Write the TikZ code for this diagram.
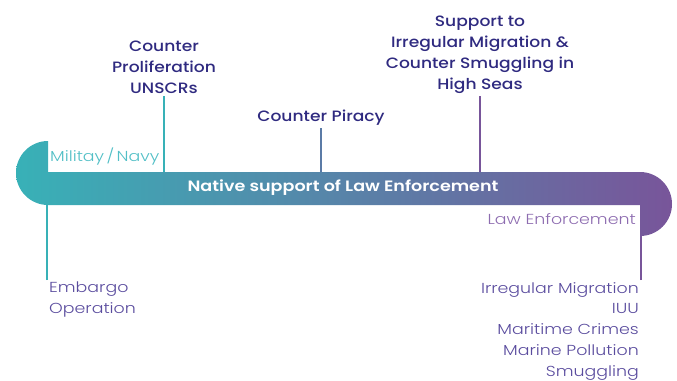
\documentclass[tikz,border=0pt]{standalone}
\usepackage{fontspec}
\setmainfont{Poppins}
\newfontfamily\lightfont{Poppins Light}[FakeStretch=1.2]
\newfontfamily\mediumfont{Poppins Medium}[FakeStretch=1.14]
\newfontfamily\semibfont{Poppins SemiBold}[FakeStretch=1.17]
\usetikzlibrary{positioning}
\definecolor{navyteal}{HTML}{38B1B7}
\definecolor{lawpurple}{HTML}{78559A}
\definecolor{navytext}{HTML}{2F2A80}
\definecolor{midblue}{HTML}{5B7BA6}
\definecolor{listtext}{HTML}{5A4C9E}
\definecolor{navylabel}{HTML}{52BFC6}
\definecolor{lawlabel}{HTML}{8D6CB0}

\begin{document}
\begin{tikzpicture}[x=1pt, y=1pt]
  \tikzstyle{topic} = [align=center, anchor=south, inner sep=2.5pt, text=navytext, font=\mediumfont\fontsize{15}{20.75}\selectfont]
  \tikzstyle{field} = [inner sep=0pt, font=\lightfont\fontsize{14.5}{20.75}\selectfont]
  \tikzstyle{task} = [field, text=listtext, inner sep=2pt]
  \tikzstyle{tick} = [line width=1.6pt]
  \useasboundingbox (0,0) rectangle (677,-380);

  \shade[left color=navyteal, right color=lawpurple]
    (48,-141) arc[start angle=90, end angle=270, radius=32] -- (640,-205) -- (640,-236)
    arc[start angle=-90, end angle=90, radius=32] -- (48,-172) -- cycle;
  \coordinate (bandtop) at (0,-172);
  \coordinate (bandbottom) at (0,-205);
  \coordinate (capbottom) at (0,-236);

  \node [topic] (prolif) at (164,-96) {Counter\\Proliferation\\UNSCRs};
  \node [topic] (piracy) at (321,-128) {Counter Piracy};
  \node [topic] (smuggle) at (480,-96) {Support to\\Irregular Migration \&\\Counter Smuggling in\\High Seas};
  \node [field, text=navylabel, anchor=base west] (military) at (50,-161) {Militay\,/\,Navy};
  \node [field, text=lawlabel, anchor=base east] (lawenf) at (636,-224) {Law Enforcement};
  \node [text=white, font=\semibfont\fontsize{15}{18}\selectfont] (native) at (343,-188) {Native support of Law Enforcement};
  \node [task, anchor=north west, align=left] (embargo) at (47,-280) {Embargo\\Operation};
  \node [task, anchor=north east, align=right] (crimes) at (641,-280) {Irregular Migration\\IUU\\Maritime Crimes\\Marine Pollution\\Smuggling};

  \draw [tick, navyteal] (prolif.south) -- (prolif.south |- bandtop);
  \draw [tick, midblue] (piracy.south) -- (piracy.south |- bandtop);
  \draw [tick, lawpurple] (smuggle.south) -- (smuggle.south |- bandtop);
  \draw [tick, navyteal] (embargo.north west) -- (embargo.north west |- bandbottom);
  \draw [tick, lawpurple] (crimes.north east) -- (crimes.north east |- capbottom);
\end{tikzpicture}
\end{document}
